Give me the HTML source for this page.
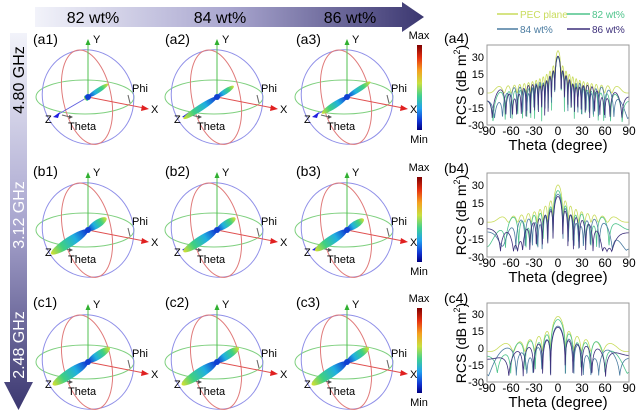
<!DOCTYPE html>
<html><head><meta charset="utf-8"><style>
html,body{margin:0;padding:0;background:#fff}
svg{display:block;font-family:"Liberation Sans",Arial,sans-serif}
</style></head><body>
<svg id="s" width="639" height="413" viewBox="0 0 639 413" xmlns="http://www.w3.org/2000/svg">
<defs>
<linearGradient id="hg" x1="0" x2="1" y1="0" y2="0"><stop offset="0" stop-color="#f2f3fa"/><stop offset="0.5" stop-color="#a9a6cf"/><stop offset="1" stop-color="#3b3770"/></linearGradient>
<linearGradient id="vg" x1="0" x2="0" y1="0" y2="1"><stop offset="0" stop-color="#f2f3fa"/><stop offset="0.5" stop-color="#a9a6cf"/><stop offset="1" stop-color="#3b3770"/></linearGradient>
<linearGradient id="jet" x1="0" x2="0" y1="0" y2="1"><stop offset="0" stop-color="#7f0000"/><stop offset="0.15" stop-color="#e53010"/><stop offset="0.3" stop-color="#f5a020"/><stop offset="0.45" stop-color="#c8e040"/><stop offset="0.6" stop-color="#40d090"/><stop offset="0.75" stop-color="#20a0f0"/><stop offset="0.9" stop-color="#1030d0"/><stop offset="1" stop-color="#000080"/></linearGradient>
<linearGradient id="lobeP" x1="0" x2="1"><stop offset="0" stop-color="#1030d0"/><stop offset="0.35" stop-color="#20b0e0"/><stop offset="0.7" stop-color="#40d080"/><stop offset="1" stop-color="#d8e030"/></linearGradient>
<linearGradient id="lobeN" x1="1" x2="0"><stop offset="0" stop-color="#1030d0"/><stop offset="0.35" stop-color="#20b0e0"/><stop offset="0.7" stop-color="#40d080"/><stop offset="1" stop-color="#d8e030"/></linearGradient>
<g id="sph" fill="none" stroke-width="1">
<ellipse cx="-3" cy="0" rx="49" ry="17" stroke="#7fd07f"/>
<ellipse cx="0" cy="0" rx="45" ry="48" stroke="#8f8fe8" transform="rotate(-30)"/>
<ellipse cx="-1" cy="0" rx="24" ry="48" stroke="#e07a7a" transform="rotate(-12)"/>
<line x1="0" y1="0" x2="0" y2="-54" stroke="#50c050"/>
<path d="M-2.5,-52 L0,-58 L2.5,-52Z" fill="#30b030" stroke="none"/>
<line x1="0" y1="0" x2="56" y2="11" stroke="#e05050"/>
<path d="M54,8 L61,12 L53,14Z" fill="#e02020" stroke="none"/>
<line x1="0" y1="0" x2="-31" y2="18" stroke="#6060e0"/>
<path d="M-28,15 L-35,20 L-30,21Z" fill="#2020e0" stroke="none"/>
<line x1="-26" y1="18" x2="-18" y2="20" stroke="#666"/>
<path d="M-19,18 L-15,20 L-19,22Z" fill="#555" stroke="none"/>
<line x1="40" y1="-2" x2="42" y2="6" stroke="#666"/>
</g>
</defs>

<path d="M35,7 L402,7 L402,2 L424,17 L402,32 L402,27 L35,27Z" fill="url(#hg)"/>
<text x="93" y="23" font-size="16" text-anchor="middle">82 wt%</text>
<text x="220" y="23" font-size="16" text-anchor="middle">84 wt%</text>
<text x="350" y="23" font-size="16" text-anchor="middle">86 wt%</text>
<path d="M10,33 L27,33 L27,382 L33,382 L18.5,410 L4,382 L10,382Z" fill="url(#vg)"/>
<text transform="translate(24,80) rotate(-90)" font-size="16" text-anchor="middle">4.80 GHz</text>
<text transform="translate(24,215) rotate(-90)" font-size="16" text-anchor="middle" fill="#fff">3.12 GHz</text>
<text transform="translate(24,345) rotate(-90)" font-size="16" text-anchor="middle" fill="#fff">2.48 GHz</text>

<g id="spheres" font-size="11"></g>

<g font-size="14">
<text x="33" y="44">(a1)</text><text x="165" y="44">(a2)</text><text x="296" y="44">(a3)</text>
<text x="33" y="176">(b1)</text><text x="165" y="176">(b2)</text><text x="296" y="176">(b3)</text>
<text x="33" y="307">(c1)</text><text x="165" y="307">(c2)</text><text x="296" y="307">(c3)</text>
<text x="444" y="43">(a4)</text><text x="444" y="173">(b4)</text><text x="444" y="303">(c4)</text>
</g>
<g font-size="11">
<g transform="translate(88,97)"><text x="5" y="-54">Y</text><text x="63" y="16">X</text><text x="-43" y="26">Z</text><text x="-20" y="33">Theta</text><text x="44" y="-5">Phi</text></g>
<g transform="translate(217,97)"><text x="5" y="-54">Y</text><text x="63" y="16">X</text><text x="-43" y="26">Z</text><text x="-20" y="33">Theta</text><text x="44" y="-5">Phi</text></g>
<g transform="translate(347,97)"><text x="5" y="-54">Y</text><text x="63" y="16">X</text><text x="-43" y="26">Z</text><text x="-20" y="33">Theta</text><text x="44" y="-5">Phi</text></g>
<g transform="translate(88,230)"><text x="5" y="-54">Y</text><text x="63" y="16">X</text><text x="-43" y="26">Z</text><text x="-20" y="33">Theta</text><text x="44" y="-5">Phi</text></g>
<g transform="translate(217,230)"><text x="5" y="-54">Y</text><text x="63" y="16">X</text><text x="-43" y="26">Z</text><text x="-20" y="33">Theta</text><text x="44" y="-5">Phi</text></g>
<g transform="translate(347,230)"><text x="5" y="-54">Y</text><text x="63" y="16">X</text><text x="-43" y="26">Z</text><text x="-20" y="33">Theta</text><text x="44" y="-5">Phi</text></g>
<g transform="translate(88,362)"><text x="5" y="-54">Y</text><text x="63" y="16">X</text><text x="-43" y="26">Z</text><text x="-20" y="33">Theta</text><text x="44" y="-5">Phi</text></g>
<g transform="translate(217,362)"><text x="5" y="-54">Y</text><text x="63" y="16">X</text><text x="-43" y="26">Z</text><text x="-20" y="33">Theta</text><text x="44" y="-5">Phi</text></g>
<g transform="translate(347,362)"><text x="5" y="-54">Y</text><text x="63" y="16">X</text><text x="-43" y="26">Z</text><text x="-20" y="33">Theta</text><text x="44" y="-5">Phi</text></g>
</g>

<g font-size="11" text-anchor="middle">
<rect x="417" y="45" width="5" height="85" fill="url(#jet)"/><text x="419" y="39">Max</text><text x="419" y="143">Min</text>
<rect x="417" y="177" width="5" height="85" fill="url(#jet)"/><text x="419" y="171">Max</text><text x="419" y="275">Min</text>
<rect x="417" y="308" width="5" height="85" fill="url(#jet)"/><text x="419" y="302">Max</text><text x="419" y="406">Min</text>
</g>

<g font-size="10">
<line x1="497" y1="14" x2="518" y2="14" stroke="#c9dc5c" stroke-width="1.5"/><text x="520" y="18" fill="#c9dc5c">PEC plane</text>
<line x1="567" y1="14" x2="590" y2="14" stroke="#4fc48c" stroke-width="1.5"/><text x="592" y="18" fill="#4fc48c">82 wt%</text>
<line x1="497" y1="29" x2="518" y2="29" stroke="#4a7ba0" stroke-width="1.5"/><text x="520" y="33" fill="#4a7ba0">84 wt%</text>
<line x1="567" y1="29" x2="590" y2="29" stroke="#3c2f7a" stroke-width="1.5"/><text x="592" y="33" fill="#3c2f7a">86 wt%</text>
</g>

<g font-size="11">
<g text-anchor="end">
<text x="484" y="61">30</text><text x="484" y="78">15</text><text x="484" y="95">0</text><text x="484" y="112">-15</text><text x="484" y="129">-30</text>
<text x="484" y="189">30</text><text x="484" y="207">15</text><text x="484" y="225">0</text><text x="484" y="243">-15</text><text x="484" y="261">-30</text>
<text x="484" y="318">30</text><text x="484" y="335">15</text><text x="484" y="352">0</text><text x="484" y="369">-15</text><text x="484" y="386">-30</text>
</g>
<g text-anchor="middle" font-size="12">
<text x="487" y="135">-90</text><text x="511" y="135">-60</text><text x="534" y="135">-30</text><text x="558" y="135">0</text><text x="582" y="135">30</text><text x="605" y="135">60</text><text x="629" y="135">90</text>
<text x="487" y="267">-90</text><text x="511" y="267">-60</text><text x="534" y="267">-30</text><text x="558" y="267">0</text><text x="582" y="267">30</text><text x="605" y="267">60</text><text x="629" y="267">90</text>
<text x="487" y="392">-90</text><text x="511" y="392">-60</text><text x="534" y="392">-30</text><text x="558" y="392">0</text><text x="582" y="392">30</text><text x="605" y="392">60</text><text x="629" y="392">90</text>
</g>
<g font-size="15" text-anchor="middle">
<text x="558" y="150">Theta (degree)</text><text x="558" y="282">Theta (degree)</text><text x="558" y="407">Theta (degree)</text>
</g>
<g font-size="14" text-anchor="middle">
<text transform="translate(466,85) rotate(-90)">RCS (dB m<tspan font-size="9" dy="-6">2</tspan><tspan dy="6">)</tspan></text>
<text transform="translate(466,215) rotate(-90)">RCS (dB m<tspan font-size="9" dy="-6">2</tspan><tspan dy="6">)</tspan></text>
<text transform="translate(466,343) rotate(-90)">RCS (dB m<tspan font-size="9" dy="-6">2</tspan><tspan dy="6">)</tspan></text>
</g>
</g>
<g id="plots"></g>
<g fill="none" stroke="#999" stroke-width="1">
<rect x="487" y="45" width="142" height="80"/>
<rect x="487" y="173" width="142" height="84"/>
<rect x="487" y="303" width="142" height="79"/>
</g>
</svg>
<script>
var NS="http://www.w3.org/2000/svg";
function el(t,a,p){var e=document.createElementNS(NS,t);for(var k in a)e.setAttribute(k,a[k]);p.appendChild(e);return e;}
var sp=document.getElementById("spheres");
var cols=[88,217,347],rows=[97,230,362];
var lobes=[[[24,4,3],[20,40,3.2],[28,30,3.2]],[[22,44,5],[22,40,4.5],[20,38,4.5]],[[26,42,5],[26,42,5],[26,42,5]]];
for(var r=0;r<3;r++)for(var c=0;c<3;c++){
 var g=el("g",{transform:"translate("+cols[c]+","+rows[r]+")"},sp);
 el("use",{href:"#sph"},g);
 var L=lobes[r][c],lg=el("g",{transform:"rotate(-33)"},g);
 el("ellipse",{cx:L[0]/2,cy:0,rx:L[0]/2,ry:L[2]*0.8,fill:"url(#lobeP)"},lg);
 el("ellipse",{cx:-L[1]/2,cy:0,rx:L[1]/2,ry:L[2],fill:"url(#lobeN)"},lg);
 el("circle",{cx:0,cy:0,r:3,fill:"#1040d0"},g);
}
var pl=document.getElementById("plots");
var boxes=[[45,125],[173,257],[303,382]];
var cl=["#c9dc5c","#4fc48c","#4a7ba0","#3c2f7a"];
var prm=[
 [[35,-2,14,0],[29,-10,14,1],[30,-6,14,0.6],[30,-6,14,0.7]],
 [[30,-1,9,0],[25,-4,9,0.4],[22,-6,9,0.6],[20,-7,9,0.8]],
 [[28,-3,6,0],[25,-4,6,0.4],[19,-6,6,0.6],[18,-7,6,0.8]]];
function sinc(u){return Math.abs(u)<1e-6?1:Math.sin(Math.PI*u)/(Math.PI*u);}
for(var b=0;b<3;b++){
 var t=boxes[b][0],bt=boxes[b][1],sc=(bt-t)/70;
 for(var s=0;s<4;s++){
  var P=prm[b][s],A=Math.pow(10,P[0]/20),F=Math.pow(10,P[1]/20),d="";
  for(var i=0;i<=600;i++){
   var th=-90+180*i/600,sn=Math.sin(th*Math.PI/180),u=P[2]*sn,v;
   if(P[3]==0){v=10*Math.log10(A*A*sinc(u)*sinc(u)+F*F);}
   else{var re=A*sinc(u)+F*Math.cos(P[3]*u*Math.PI+0.3);v=20*Math.log10(Math.abs(re)+0.12*F);}
   v=Math.max(-30,Math.min(40,v));
   var x=487+142*i/600,y=bt-(v+30)*sc;
   d+=(i?"L":"M")+x.toFixed(1)+","+y.toFixed(1);
  }
  el("path",{d:d,fill:"none",stroke:cl[s],"stroke-width":"0.8"},pl);
 }
}
</script>
</body></html>
